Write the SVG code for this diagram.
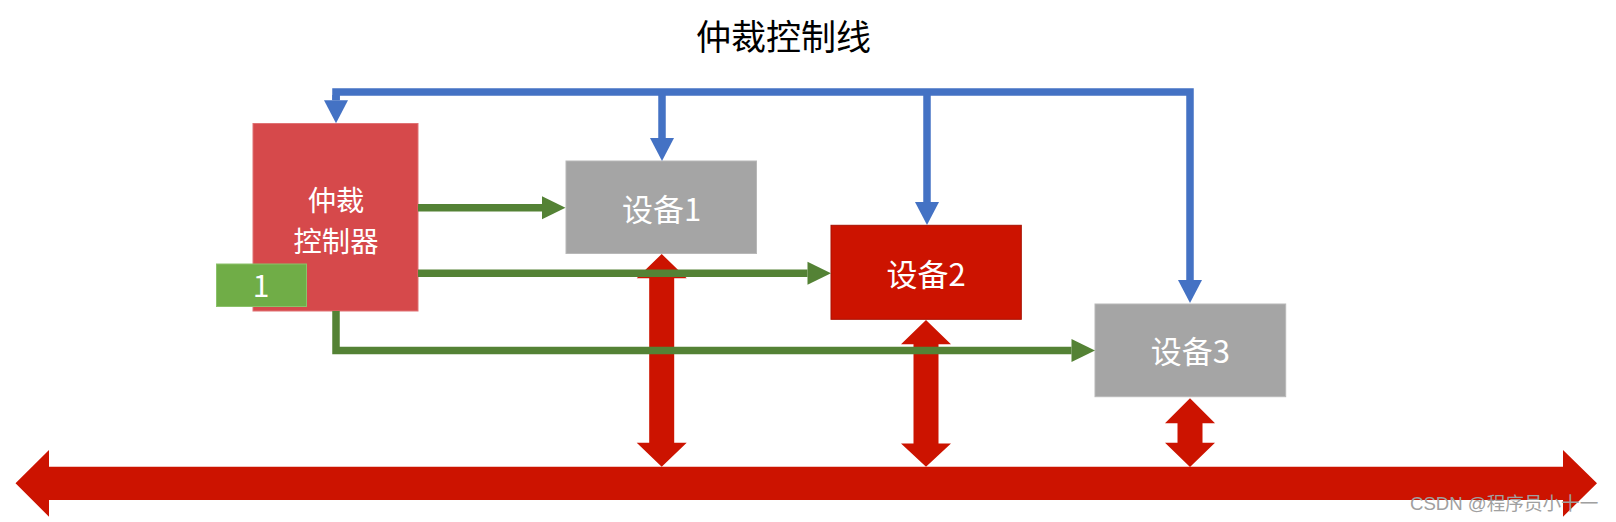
<svg xmlns="http://www.w3.org/2000/svg" width="1616" height="522" viewBox="0 0 1616 522">
<style>
.cjk{font-family:"Noto Sans CJK SC","Noto Sans",sans-serif;}
.lbl{fill:#ffffff;font-size:31px;text-anchor:middle;}
.blue{fill:none;stroke:#4472C4;stroke-width:7.5;stroke-linejoin:miter;}
.green{fill:none;stroke:#548235;stroke-width:7.5;stroke-linejoin:miter;}
.red{fill:#CC1300;}
.gray{fill:#A5A5A5;stroke:#B8B8B8;stroke-width:1;}
</style>
<defs>
<marker id="bh" markerUnits="userSpaceOnUse" markerWidth="24" markerHeight="24" refX="0" refY="12" orient="auto" overflow="visible">
<path d="M0,0 L23,12 L0,24 z" fill="#4472C4"/>
</marker>
<marker id="gh" markerUnits="userSpaceOnUse" markerWidth="24" markerHeight="23" refX="0" refY="11.5" orient="auto" overflow="visible">
<path d="M0,0 L23.5,11.5 L0,23 z" fill="#548235"/>
</marker>
</defs>
<text class="cjk" x="783.5" y="50" font-size="35" text-anchor="middle" fill="#000000">仲裁控制线</text>
<g id="bus">
<polygon class="red" points="15.5,483.3 49,450 49,466.7 1563,466.7 1563,450 1597,483.3 1563,516.7 1563,500 49,500 49,516.7"/>
</g>
<g id="arbiter">
<rect x="253" y="123.5" width="165" height="187.5" fill="#D6494B" stroke="#E07274" stroke-width="1"/>
<text class="cjk" x="336" y="210.5" font-size="28.3" text-anchor="middle" fill="#ffffff">仲裁</text>
<text class="cjk" x="336" y="251.5" font-size="28.3" text-anchor="middle" fill="#ffffff">控制器</text>
</g>
<g id="tag1">
<rect x="216.5" y="264" width="90" height="42.5" fill="#70AD47" stroke="#8BC26A" stroke-width="1"/>
<text class="cjk" x="261" y="296.7" font-size="30" text-anchor="middle" fill="#ffffff">1</text>
</g>
<g id="device1">
<rect class="gray" x="566" y="161" width="190.5" height="92.5"/>
<text class="cjk lbl" x="661.5" y="220.5">设备1</text>
</g>
<g id="device2">
<rect x="831" y="225.3" width="190.3" height="94" fill="#CC1300" stroke="#A81000" stroke-width="1"/>
<text class="cjk lbl" x="926" y="286">设备2</text>
</g>
<g id="device3">
<rect class="gray" x="1095" y="304" width="190.7" height="92.7"/>
<text class="cjk lbl" x="1190.3" y="363">设备3</text>
</g>
<g id="connectors">
<path class="blue" d="M336,100 V92 H1190 V280" marker-end="url(#bh)"/>
<path class="blue" d="M336,95 V100.3" marker-end="url(#bh)"/>
<path class="blue" d="M662,92 V138" marker-end="url(#bh)"/>
<path class="blue" d="M927,92 V202" marker-end="url(#bh)"/>
<polygon class="red" points="661.7,254 686.7,278.3 674.2,278.3 674.2,442.7 686.7,442.7 661.7,466.7 636.7,442.7 649.2,442.7 649.2,278.3 636.7,278.3"/>
<polygon class="red" points="926,320 951,344.3 938.5,344.3 938.5,443.5 951,443.5 926,466.7 901,443.5 913.5,443.5 913.5,344.3 901,344.3"/>
<polygon class="red" points="1190,398.3 1215,423.3 1202.5,423.3 1202.5,442.7 1215,442.7 1190,467 1165,442.7 1177.5,442.7 1177.5,423.3 1165,423.3"/>
<path class="green" d="M418,207.7 H542" marker-end="url(#gh)"/>
<path class="green" d="M418,273.3 H807.5" marker-end="url(#gh)"/>
<path class="green" d="M336,311 V350.5 H1071.5" marker-end="url(#gh)"/>
</g>
<text x="1410" y="510" font-family="Liberation Sans,Noto Sans CJK SC,sans-serif" font-size="18.6" fill="#A0A0A0">CSDN @程序员小十一</text>
</svg>
